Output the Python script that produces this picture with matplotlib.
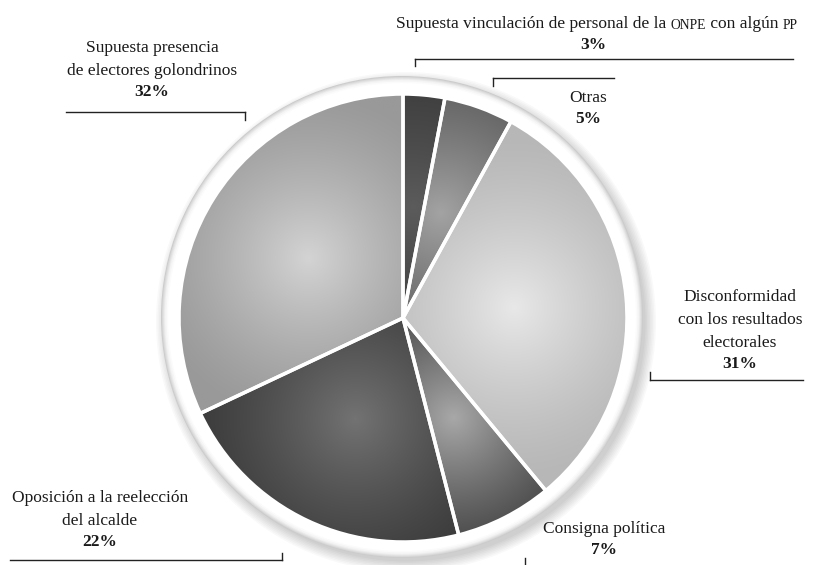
import numpy as np
import matplotlib
matplotlib.use("Agg")
import matplotlib.pyplot as plt
from matplotlib.patches import Circle

# Data (clockwise from the top)
categories = [
    "Supuesta vinculación de personal de la ONPE con algún PP",
    "Otras",
    "Disconformidad con los resultados electorales",
    "Consigna política",
    "Oposición a la reelección del alcalde",
    "Supuesta presencia de electores golondrinos",
]
values = [3, 5, 31, 7, 22, 32]
# grey levels: edge shade and highlight shade per slice
edge_grey = [0.22, 0.34, 0.72, 0.22, 0.23, 0.60]
light_grey = [0.36, 0.64, 0.91, 0.66, 0.45, 0.83]

W, H = 825, 565
CX, CY, R = 403, 318, 224

plt.rcParams['font.family'] = ['Liberation Serif', 'DejaVu Serif']

fig = plt.figure(figsize=(W / 100, H / 100), dpi=100)
ax = fig.add_axes([0, 0, 1, 1])

# soft drop shadow, lower right
for i in range(8):
    ax.add_patch(Circle((CX + 3, CY + 4), 250 - i * 1.5, color='black', alpha=0.025, lw=0, zorder=1))
# white rim with a grey bevel on its outer edge
for r, g in [(241, 0.80), (240, 0.85), (239, 0.89), (238, 0.93), (237, 0.96), (235.5, 0.985), (234, 1.0)]:
    ax.add_patch(Circle((CX - 1, CY - 1), r, facecolor=str(g), lw=0, zorder=2))

# pie (y axis inverted: data ccw = visual cw)
wedges, _ = ax.pie(values, center=(CX, CY), radius=R, startangle=270, counterclock=True,
                   frame=True, wedgeprops=dict(facecolor='none', edgecolor='white', linewidth=2.5))
ax.set_xlim(0, W)
ax.set_ylim(H, 0)
ax.set_aspect('equal')
ax.axis('off')

# radial shading inside each wedge
xs = np.linspace(CX - R, CX + R, 400)
ys = np.linspace(CY - R, CY + R, 400)
gx, gy = np.meshgrid(xs, ys)
for w, e, l in zip(wedges, edge_grey, light_grey):
    mid = np.deg2rad((w.theta1 + w.theta2) / 2)
    hx = CX + 0.5 * R * np.cos(mid)
    hy = CY + 0.5 * R * np.sin(mid)
    d = np.hypot(gx - hx, gy - hy) / (0.75 * R)
    t = np.clip(1 - d, 0, 1) ** 1.3
    g = e + (l - e) * t
    img = np.dstack([g, g, g])
    im = ax.imshow(img, extent=(CX - R, CX + R, CY + R, CY - R), zorder=3, interpolation='bilinear')
    im.set_clip_path(w)
    w.set_zorder(4)

fs = 12.5
col = '#1a1a1a'


def label(x, y, lines, pct):
    for i, s in enumerate(lines):
        ax.text(x, y + i * 23, s, ha='center', va='baseline', fontsize=fs, color=col, zorder=6)
    ax.text(x, y + len(lines) * 23 - 2, pct, ha='center', va='baseline', fontsize=fs,
            fontweight='bold', color=col, zorder=6)


def leader(x0, x1, y, tx, ty):
    ax.plot([x0, x1], [y, y], color='#222222', lw=1.0, zorder=6)
    ax.plot([tx, tx], [y, ty], color='#222222', lw=1.0, zorder=6)


# top label with small caps pieces
t = ax.text(396, 28, "Supuesta vinculación de personal de la ", ha='left', va='baseline',
            fontsize=fs, color=col)
for piece, size in [("ONPE", 9.8), (" con algún ", fs), ("PP", 9.8)]:
    t = ax.annotate(piece, xy=(1, 0), xycoords=t, ha='left', va='bottom', fontsize=size, color=col)
ax.text(593, 49, f"{values[0]}%", ha='center', va='baseline', fontsize=fs, fontweight='bold', color=col)
leader(415, 793, 59, 415, 66)

label(588, 102, ["Otras"], f"{values[1]}%")
leader(493, 614, 78, 493, 86)

label(152, 52, ["Supuesta presencia", "de electores golondrinos"], f"{values[5]}%")
leader(66, 245, 112, 245, 120)

label(740, 301, ["Disconformidad", "con los resultados", "electorales"], f"{values[2]}%")
leader(650, 803, 380, 650, 372)

label(100, 502, ["Oposición a la reelección", "del alcalde"], f"{values[4]}%")
leader(10, 282, 560, 282, 553)

label(604, 533, ["Consigna política"], f"{values[3]}%")
leader(525, 525, 566, 525, 558)

fig.savefig("out.png", dpi=100)
